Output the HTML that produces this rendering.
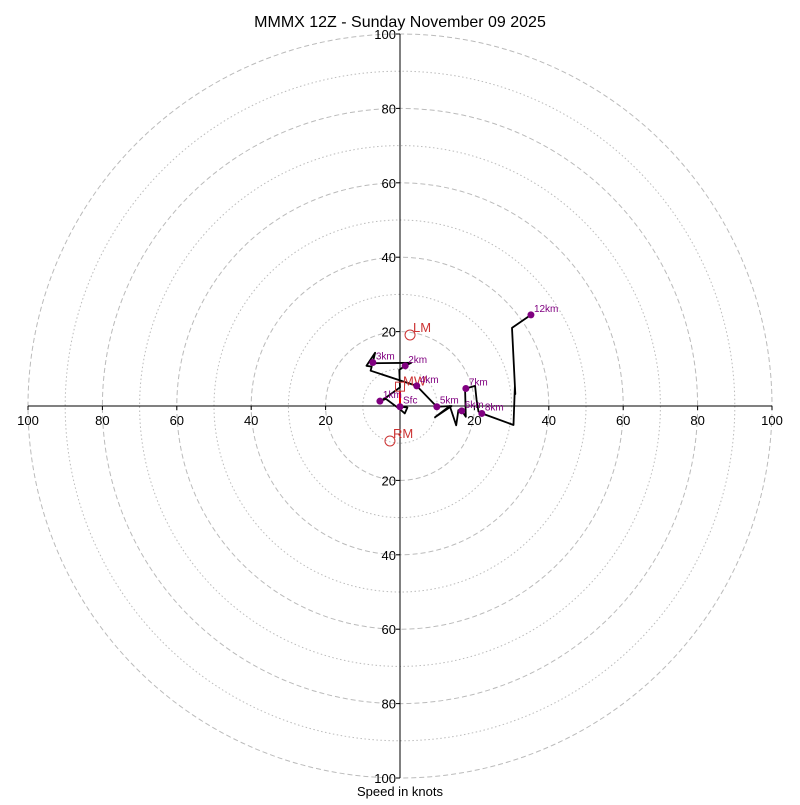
<!DOCTYPE html>
<html><head><meta charset="utf-8"><style>
body{margin:0;background:#fff}
svg text{font-family:"Liberation Sans","DejaVu Sans",sans-serif}
</style></head><body>
<svg id="chart" width="800" height="800" viewBox="0 0 800 800" xmlns="http://www.w3.org/2000/svg">
<rect width="800" height="800" fill="#fff"/>
<text x="400" y="27" font-size="16" text-anchor="middle">MMMX 12Z - Sunday November 09 2025</text>
<g id="grid"></g>
<g id="axes"></g>
<g id="trace"></g>
<text x="400" y="796" font-size="13" text-anchor="middle">Speed in knots</text>
</svg>
<script>
const ringValues=[10,20,30,40,50,60,70,80,90,100];
const tickLabels=[20,40,60,80,100];
const traceU=[0,2.0,1.3,0,-3.8,-5.4,-4.0,0,-0.2,1.4,3.0,-7.2,-7.3,-6.7,-9.0,-7.6,-7.9,4.5,9.9,13.9,9.4,13.4,15.1,15.7,16.6,17.7,17.5,17.7,20.2,20.6,21.1,22.0,30.5,30.9,31.0,30.1,35.2];
const traceV=[-0.2,-0.4,-2.0,-0.9,1.9,1.3,2.1,5.0,9.7,10.8,11.6,11.5,11.7,14.3,10.8,10.6,9.5,5.4,-0.2,0,-3.0,0,-5.2,-1.1,-1.3,-2.9,4.3,4.7,5.4,1.6,-1.5,-2.0,-5.1,5.4,3.2,21.0,24.5];
const levelNames=["Sfc","1km","2km","3km","4km","5km","6km","7km","8km","12km"];
const levelU=[0,-5.4,1.4,-7.3,4.5,9.9,16.6,17.7,22.0,35.2];
const levelV=[-0.2,1.3,10.8,11.7,5.4,-0.2,-1.3,4.7,-2.0,24.5];
const motionNames=["LM","RM"];
const motionU=[2.7,-2.7];
const motionV=[19.1,-9.4];
const meanWindU=[0];
const meanWindV=[5.2];

const NS="http://www.w3.org/2000/svg";
const cx=400,cy=406,k=3.72;
const X=u=>cx+u*k, Y=v=>cy-v*k;
function mk(t,attrs,parent){const e=document.createElementNS(NS,t);for(const a in attrs)e.setAttribute(a,attrs[a]);parent.appendChild(e);return e;}
const grid=document.getElementById('grid'),axes=document.getElementById('axes'),tr=document.getElementById('trace');
ringValues.forEach(r=>{
  const c=mk('circle',{cx:cx,cy:cy,r:r*k,fill:'none',stroke:'#bbb','stroke-width':1,'stroke-dasharray':r%20===0?'5,3':'1.5,2.5'},grid);
  
  
});
const xl=mk('line',{x1:X(-100),y1:cy,x2:X(100),y2:cy,stroke:'#000','stroke-width':1},axes);


const yl=mk('line',{x1:cx,y1:Y(100),x2:cx,y2:Y(-100),stroke:'#000','stroke-width':1},axes);


tickLabels.forEach(t=>{
  [-1,1].forEach(s=>{
    const tx=mk('text',{x:X(s*t),y:cy+19,'font-size':13,'text-anchor':'middle'},axes);
    tx.textContent=t;
    
    
    mk('line',{x1:X(s*t),y1:cy,x2:X(s*t),y2:cy+4,stroke:'#000'},axes);
    const ty=mk('text',{x:cx-4,y:Y(s*t)+5,'font-size':13,'text-anchor':'end'},axes);
    ty.textContent=t;
    
    
    mk('line',{x1:cx-4,y1:Y(s*t),x2:cx,y2:Y(s*t),stroke:'#000'},axes);
  });
});
const pts=traceU.map((u,i)=>X(u).toFixed(1)+','+Y(traceV[i]).toFixed(1)).join(' ');
const pl=mk('polyline',{points:pts,fill:'none',stroke:'#000','stroke-width':1.8,'stroke-linejoin':'round'},tr);


// mean wind
const ml=mk('line',{x1:X(0),y1:Y(-0.2),x2:X(meanWindU[0]),y2:Y(meanWindV[0]-1.2),stroke:'#e00','stroke-width':2},tr);


const ms=mk('rect',{x:X(meanWindU[0])-4.5,y:Y(meanWindV[0])-4.5,width:9,height:9,fill:'none',stroke:'#c33','stroke-width':1},tr);


const mt=mk('text',{x:X(meanWindU[0])+3,y:Y(meanWindV[0])-1,'font-size':13,fill:'#c33'},tr);
mt.textContent='MW';


motionNames.forEach((n,i)=>{
  const c=mk('circle',{cx:X(motionU[i]),cy:Y(motionV[i]),r:5,fill:'none',stroke:'#c33','stroke-width':1},tr);
  
  
  const t=mk('text',{x:X(motionU[i])+3,y:Y(motionV[i])-3,'font-size':13,fill:'#c33'},tr);
  t.textContent=n;
  
  
});
levelNames.forEach((n,i)=>{
  const c=mk('circle',{cx:X(levelU[i]),cy:Y(levelV[i]),r:3.5,fill:'#800080'},tr);
  
  
  const t=mk('text',{x:X(levelU[i])+3,y:Y(levelV[i])-3,'font-size':10,fill:'#800080'},tr);
  t.textContent=n;
  
  
});
</script>
</body></html>
